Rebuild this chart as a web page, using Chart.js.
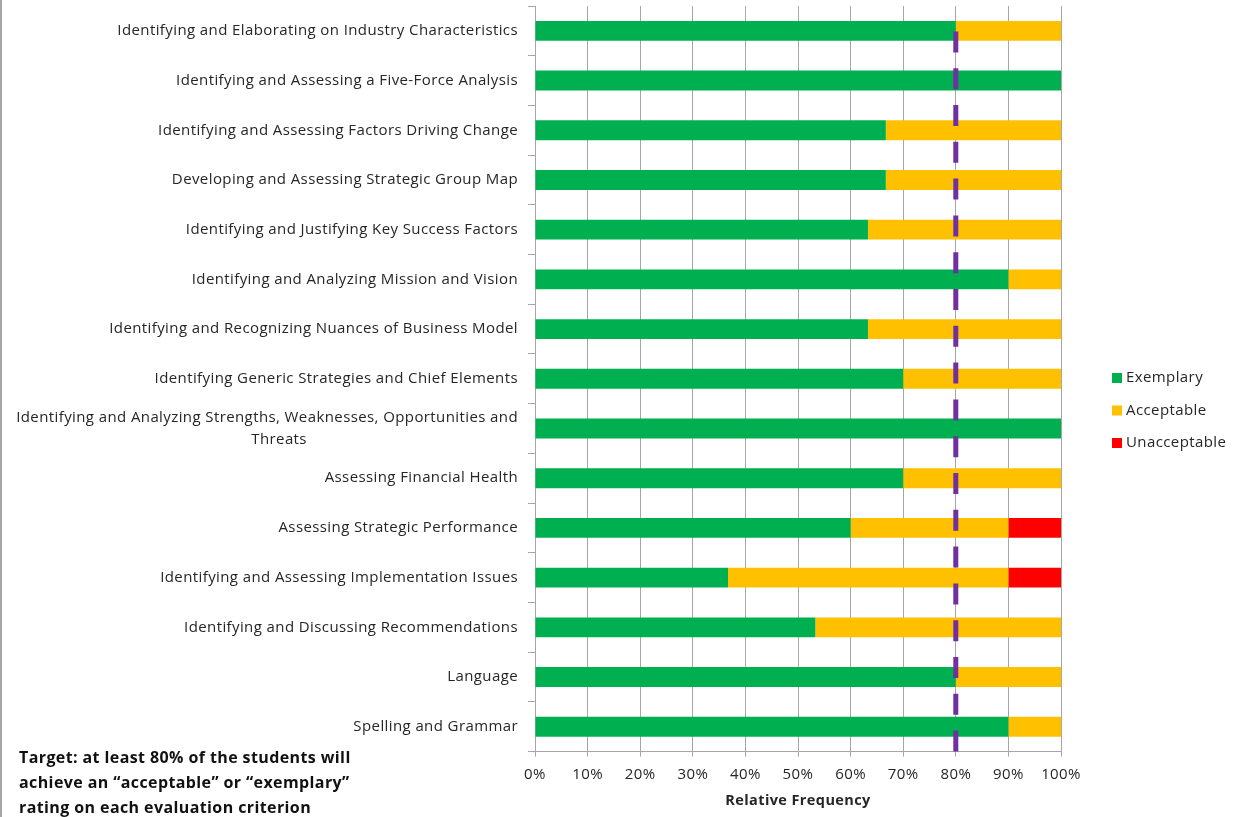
<!DOCTYPE html>
<html>
<head>
<meta charset="utf-8">
<script src="https://cdn.jsdelivr.net/npm/chart.js@4/dist/chart.umd.min.js"></script>
<style>
  html, body { margin: 0; padding: 0; background: #fff; }
  #wrap { position: relative; width: 1239px; height: 817px; overflow: hidden; }
  #edge { position: absolute; left: 0; top: 0; width: 2px; height: 817px; background: #a6a6a6; }
  #note {
    position: absolute; left: 19px; top: 745px;
    font: bold 16px "Open Sans", Lato, sans-serif; line-height: 25px; color: #111;
    letter-spacing: 0.4px; white-space: nowrap;
  }
</style>
</head>
<body>
<div id="wrap">
  <canvas id="chart" width="1239" height="817"></canvas>
  <div id="edge"></div>
  <div id="note">Target: at least 80% of the students will<br>achieve an “acceptable” or “exemplary”<br>rating on each evaluation criterion</div>
</div>
<script>
// Evaluation criteria (top to bottom)
const criteria = [
  ["Identifying and Elaborating on Industry Characteristics"],
  ["Identifying and Assessing a Five-Force Analysis"],
  ["Identifying and Assessing Factors Driving Change"],
  ["Developing and Assessing Strategic Group Map"],
  ["Identifying and Justifying Key Success Factors"],
  ["Identifying and Analyzing Mission and Vision"],
  ["Identifying and Recognizing Nuances of Business Model"],
  ["Identifying Generic Strategies and Chief Elements"],
  ["Identifying and Analyzing Strengths, Weaknesses, Opportunities and", "Threats"],
  ["Assessing Financial Health"],
  ["Assessing Strategic Performance"],
  ["Identifying and Assessing Implementation Issues"],
  ["Identifying and Discussing Recommendations"],
  ["Language"],
  ["Spelling and Grammar"]
];

// Share of students (%) per rating
const exemplary    = [80, 100, 66.7, 66.7, 63.3, 90, 63.3, 70, 100, 70, 60, 36.7, 53.3, 80, 90];
const acceptable   = [20,   0, 33.3, 33.3, 36.7, 10, 36.7, 30,   0, 30, 30, 53.3, 46.7, 20, 10];
const unacceptable = [ 0,   0,    0,    0,    0,  0,    0,  0,   0,  0, 10,   10,    0,  0,  0];

const seriesNames = ["Exemplary", "Acceptable", "Unacceptable"];
const seriesColors = ["#00B050", "#FFC000", "#FF0000"];

// Target share of acceptable-or-better ratings
const targetPct = 80;

const xTicks = [0, 10, 20, 30, 40, 50, 60, 70, 80, 90, 100];

const FONT = '"Open Sans", Lato, sans-serif';
const TEXT = '#262626';
const GRID = '#a6a6a6';

// Slightly looser tracking for all canvas text
const tracking = {
  id: 'tracking',
  beforeUpdate(chart) { chart.ctx.letterSpacing = '0.4px'; },
  beforeDraw(chart) { chart.ctx.letterSpacing = '0.4px'; }
};

// Category labels drawn beside the y axis; wrapped lines sit centred under the first line
const categoryLabels = {
  id: 'categoryLabels',
  afterDraw(chart) {
    const { ctx, chartArea, scales: { y } } = chart;
    ctx.save();
    ctx.font = '15px ' + FONT;
    ctx.fillStyle = TEXT;
    ctx.textBaseline = 'middle';
    const right = chartArea.left - 17;
    const lh = 22;
    chart.data.labels.forEach((lines, i) => {
      const cy = y.getPixelForValue(i);
      const top = cy - (lines.length - 1) * lh / 2;
      const firstW = ctx.measureText(lines[0]).width;
      lines.forEach((ln, k) => {
        if (k === 0) {
          ctx.textAlign = 'right';
          ctx.fillText(ln, right, top);
        } else {
          ctx.textAlign = 'center';
          ctx.fillText(ln, right - firstW / 2 + 12, top + k * lh);
        }
      });
    });
    ctx.restore();
  }
};

// Dashed target line at the target percentage
const targetLine = {
  id: 'targetLine',
  afterDatasetsDraw(chart) {
    const { ctx, chartArea, scales: { x } } = chart;
    const px = x.getPixelForValue(targetPct);
    ctx.save();
    ctx.strokeStyle = '#7030A0';
    ctx.lineWidth = 5;
    ctx.lineCap = 'butt';
    ctx.setLineDash([21, 15.8]);
    ctx.beginPath();
    ctx.moveTo(px, chartArea.bottom);
    ctx.lineTo(px, chartArea.top + 22);
    ctx.stroke();
    ctx.restore();
  }
};

// Legend at the right of the plot
const sideLegend = {
  id: 'sideLegend',
  afterDraw(chart) {
    const { ctx, chartArea } = chart;
    const x0 = chartArea.right + 51;
    const mid = chart.height / 2 + 2;
    const step = 32.5;
    const ds = chart.data.datasets;
    ctx.save();
    ctx.font = '15px ' + FONT;
    ctx.textBaseline = 'middle';
    ctx.textAlign = 'left';
    ds.forEach((d, i) => {
      const cy = mid + (i - (ds.length - 1) / 2) * step;
      ctx.fillStyle = d.backgroundColor;
      ctx.fillRect(x0, cy - 5, 10, 10);
      ctx.fillStyle = TEXT;
      ctx.fillText(d.label, x0 + 14, cy);
    });
    ctx.restore();
  }
};

const seriesData = [exemplary, acceptable, unacceptable];

new Chart(document.getElementById('chart'), {
  type: 'bar',
  data: {
    labels: criteria,
    datasets: seriesNames.map((name, i) => ({
      label: name,
      data: seriesData[i],
      backgroundColor: seriesColors[i],
      borderWidth: 0,
      categoryPercentage: 1,
      barPercentage: 0.4
    }))
  },
  options: {
    indexAxis: 'y',
    responsive: false,
    animation: false,
    layout: { padding: { top: 6, right: 178, bottom: 7, left: 0 } },
    plugins: {
      legend: { display: false },
      tooltip: { enabled: false }
    },
    scales: {
      x: {
        stacked: true,
        min: 0,
        max: 100,
        afterBuildTicks(scale) { scale.ticks = xTicks.map(v => ({ value: v })); },
        ticks: {
          callback: v => v + '%',
          font: { family: FONT, size: 15 },
          color: TEXT,
          padding: 9,
          maxRotation: 0
        },
        grid: { color: GRID, lineWidth: 1, tickLength: 5 },
        border: { display: true, color: GRID },
        title: {
          display: true,
          text: 'Relative Frequency',
          font: { family: FONT, size: 14.5, weight: 'bold' },
          color: TEXT,
          padding: { top: 0, bottom: 0 }
        }
      },
      y: {
        stacked: true,
        offset: true,
        ticks: { display: false },
        grid: { offset: true, drawOnChartArea: false, drawTicks: true, tickLength: 7, color: GRID },
        border: { display: true, color: GRID },
        afterFit(scale) { scale.width = 535; }
      }
    }
  },
  plugins: [tracking, targetLine, categoryLabels, sideLegend]
});
</script>
</body>
</html>
